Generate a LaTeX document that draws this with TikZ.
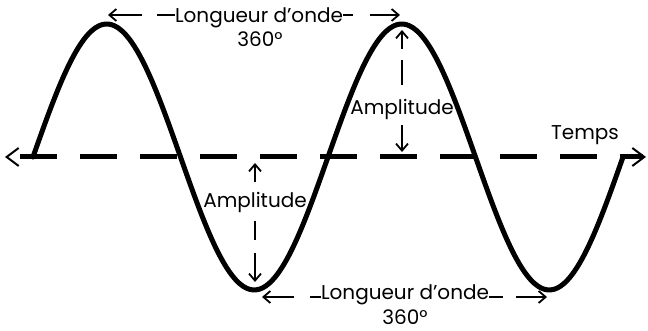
\documentclass[tikz,border=0pt]{standalone}
\usepackage{fontspec}
\setmainfont{Poppins}
\usepackage{tikz}
\usetikzlibrary{arrows.meta,positioning}

\begin{document}
\begin{tikzpicture}[x=1pt,y=1pt,
  wave/.style={line width=5pt,line cap=round,line join=round},
  axisline/.style={line width=5pt,dash pattern=on 37pt off 23pt,
    {Straight Barb[length=12pt,width=18pt,line width=2pt]}-{Straight Barb[length=12pt,width=18pt,line width=2pt]}},
  marker/.style={line width=1.8pt,{Straight Barb[length=7pt,width=12pt]}-},
  lbl/.style={inner sep=0pt,anchor=base,font=\fontsize{20pt}{24pt}\selectfont}]
  \useasboundingbox (0,0) rectangle (648,331);
  % time axis
  \coordinate (axl) at (5,174);
  \coordinate (axr) at (646,174);
  \draw[axisline,dash phase=48pt] (axl) -- (axr);
  % the wave, two periods
  \draw[wave] plot[domain=0:720,samples=181,smooth] ({33+\x/360*295},{174+133*sin(\x)});
  % labels
  \node[lbl] (temps) at (585,191) {Temps};
  \node[lbl] (lwtop) at (259,308) {Longueur d’onde};
  \node[lbl] (degtop) at (260,284) {360°};
  \node[lbl] (lwbot) at (405,31) {Longueur d’onde};
  \node[lbl] (degbot) at (405,6) {360°};
  \node[lbl] (ampup) at (402,216) {Amplitude};
  \node[lbl] (amplo) at (255,123) {Amplitude};
  % arrow tips
  \coordinate (tl1) at (108,316);
  \coordinate (tl2) at (400,316);
  \coordinate (bl1) at (262,34);
  \coordinate (bl2) at (547,34);
  \coordinate (au1) at (402,301);
  \coordinate (au2) at (402,179);
  \coordinate (ad1) at (255,168);
  \coordinate (ad2) at (255,49);
  % wavelength markers
  \draw[marker,dash pattern=on 32pt off 15pt on 40pt] (tl1) -- (tl1 -| lwtop.west);
  \draw[marker,dash pattern=on 28pt off 17pt on 40pt] (tl2) -- (tl2 -| lwtop.east);
  \draw[marker,dash pattern=on 30pt off 16pt on 40pt] (bl1) -- (bl1 -| lwbot.west);
  \draw[marker,dash pattern=on 29pt off 13pt on 40pt] (bl2) -- (bl2 -| lwbot.east);
  % amplitude markers
  \draw[marker,dash pattern=on 17pt off 11pt on 25pt off 60pt] (au1) -- (au1 |- ampup.north);
  \draw[marker,dash pattern=on 25pt off 60pt] (au2) -- (au2 |- ampup.south);
  \draw[marker,dash pattern=on 17pt off 60pt] (ad1) -- (ad1 |- amplo.north);
  \draw[marker,dash pattern=on 27pt off 13pt on 19pt off 60pt] (ad2) -- (ad2 |- amplo.south);
\end{tikzpicture}
\end{document}
